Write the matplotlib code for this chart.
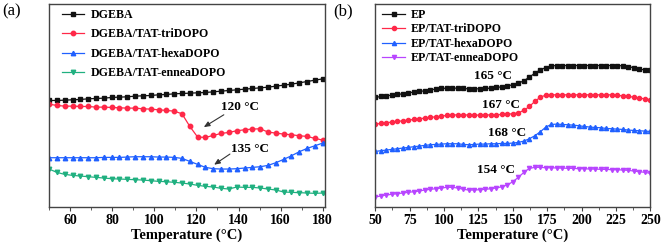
import numpy as np
import matplotlib
matplotlib.use("Agg")
import matplotlib.pyplot as plt
from matplotlib.ticker import MultipleLocator

plt.rcParams['font.family'] = ['Liberation Serif', 'DejaVu Serif']

# ---------------- Panel (a) data ----------------
temp_a = np.linspace(50, 180, 36)
dgeba = [32.0, 32.0, 32.1, 32.2, 32.3, 32.5, 32.6, 32.7, 32.9, 33.0, 33.1, 33.3,
         33.4, 33.5, 33.7, 33.8, 34.0, 34.1, 34.2, 34.3, 34.4, 34.6, 34.8, 35.0,
         35.2, 35.4, 35.6, 35.8, 36.0, 36.3, 36.6, 36.9, 37.3, 37.7, 38.1, 38.5]
dgeba_tri = [30.9, 30.5, 30.3, 30.3, 30.2, 30.2, 30.0, 30.0, 29.9, 29.8, 29.7, 29.7,
             29.5, 29.4, 29.2, 29.0, 28.8, 28.0, 24.2, 21.0, 20.9, 21.5, 22.1, 22.4,
             22.9, 23.2, 23.4, 23.5, 22.5, 22.2, 21.9, 21.7, 21.4, 21.2, 20.6, 20.1]
dgeba_hexa = [14.8, 14.8, 14.8, 14.8, 14.8, 14.8, 14.8, 14.9, 14.9, 14.9, 15.0, 15.1,
              15.1, 15.1, 15.0, 15.0, 14.9, 14.6, 13.7, 12.8, 11.9, 11.5, 11.4, 11.4,
              11.5, 11.7, 11.9, 12.1, 12.5, 13.3, 14.3, 15.4, 16.6, 17.6, 18.4, 19.2]
dgeba_ennea = [11.4, 10.4, 9.8, 9.5, 9.3, 9.1, 8.9, 8.7, 8.5, 8.4, 8.3, 8.2,
               8.1, 7.9, 7.7, 7.6, 7.4, 7.2, 6.9, 6.5, 6.2, 6.0, 5.6, 5.4,
               6.0, 5.9, 5.9, 5.7, 5.4, 5.1, 4.5, 4.4, 4.3, 4.2, 4.1, 4.2]
labels_a = ["DGEBA", "DGEBA/TAT-triDOPO", "DGEBA/TAT-hexaDOPO", "DGEBA/TAT-enneaDOPO"]

# ---------------- Panel (b) data ----------------
temp_b = np.arange(50, 251, 4)
ep = [32.9, 33.2, 33.4, 33.6, 33.8, 34.0, 34.3, 34.5, 34.7, 34.9, 35.2, 35.4,
      35.6, 35.7, 35.7, 35.7, 35.6, 35.5, 35.5, 35.5, 35.6, 35.7, 35.9, 36.1,
      36.4, 36.7, 37.2, 37.9, 39.0, 40.2, 41.2, 41.9, 42.4, 42.5,
      42.5, 42.5, 42.5, 42.5, 42.5, 42.5, 42.5, 42.5, 42.5, 42.5, 42.5,
      42.4, 42.2, 41.8, 41.4, 41.2, 41.2]
ep_tri = [24.9, 25.1, 25.3, 25.5, 25.7, 25.9, 26.1, 26.3, 26.5, 26.7, 26.9, 27.1,
          27.3, 27.5, 27.6, 27.7, 27.7, 27.6, 27.6, 27.6, 27.6, 27.7, 27.7, 27.8,
          27.9, 28.0, 28.3, 29.0, 30.2, 31.7, 33.0, 33.6, 33.7, 33.7,
          33.7, 33.7, 33.7, 33.7, 33.7, 33.7, 33.7, 33.7, 33.7, 33.7,
          33.5, 33.4, 33.2, 33.0, 32.7, 32.5, 32.2]
ep_hexa = [16.7, 16.9, 17.1, 17.3, 17.5, 17.7, 17.9, 18.1, 18.3, 18.5, 18.7, 18.8,
           18.9, 19.0, 19.0, 19.0, 18.8, 18.7, 18.8, 18.9, 18.9, 19.0, 19.0, 19.1,
           19.1, 19.2, 19.4, 19.8, 20.5, 21.4, 22.6, 24.0, 24.8, 24.9, 24.8, 24.7,
           24.6, 24.4, 24.2, 24.0, 23.9, 23.8, 23.6, 23.5, 23.4, 23.3, 23.1, 23.0,
           22.9, 22.8, 22.7]
ep_ennea = [3.0, 3.3, 3.6, 3.8, 4.0, 4.2, 4.4, 4.6, 4.8, 5.1, 5.3, 5.5,
            5.7, 5.9, 5.9, 5.7, 5.3, 5.1, 5.1, 5.2, 5.3, 5.5, 5.7, 6.1,
            6.6, 7.6, 8.9, 10.4, 11.6, 11.9, 11.9, 11.8, 11.8, 11.7, 11.7, 11.6,
            11.6, 11.5, 11.5, 11.4, 11.4, 11.3, 11.3, 11.2, 11.2, 11.1, 11.0, 10.8,
            10.6, 10.4, 10.1]
labels_b = ["EP", "EP/TAT-triDOPO", "EP/TAT-hexaDOPO", "EP/TAT-enneaDOPO"]

colors = ["#111111", "#ff2848", "#2060ff", "#20b080"]
colors_b = ["#111111", "#ff2848", "#2060ff", "#b845ff"]
markers = ["s", "o", "^", "v"]

fig = plt.figure(figsize=(6.63, 2.47), dpi=100)
ax1 = fig.add_axes([0.074, 0.162, 0.416, 0.822])
ax2 = fig.add_axes([0.566, 0.162, 0.415, 0.822])

for ys, lab, c, m in zip([dgeba, dgeba_tri, dgeba_hexa, dgeba_ennea], labels_a, colors, markers):
    ax1.plot(temp_a, ys, color=c, marker=m, markersize=3.2, linewidth=0.9, label=lab)
for ys, lab, c, m in zip([ep, ep_tri, ep_hexa, ep_ennea], labels_b, colors_b, markers):
    ax2.plot(temp_b, ys, color=c, marker=m, markersize=3.0, linewidth=0.9, label=lab)

ax1.set_xlim(50, 181)
ax1.set_ylim(0, 61)
ax2.set_xlim(50, 250)
ax2.set_ylim(0, 61)

ax1.xaxis.set_major_locator(MultipleLocator(20))
ax1.xaxis.set_minor_locator(MultipleLocator(10))
ax2.xaxis.set_major_locator(MultipleLocator(25))
ax2.xaxis.set_minor_locator(MultipleLocator(12.5))

for ax in (ax1, ax2):
    ax.set_yticks([])
    for s in ax.spines.values():
        s.set_color("#444444")
        s.set_linewidth(1.0)
    ax.tick_params(axis='x', which='major', direction='out', length=3, width=0.8,
                   labelsize=10, pad=2, color="#444444")
    ax.tick_params(axis='x', which='minor', direction='out', length=2, width=0.6, color="#444444")
    for t in ax.get_xticklabels():
        t.set_fontweight('bold')
    ax.set_xlabel("Temperature (°C)", fontsize=10.5, fontweight='bold', labelpad=1)

ax1.legend(loc='upper left', frameon=False, prop={'weight': 'bold', 'size': 8.6},
           handlelength=1.9, labelspacing=0.62, borderaxespad=0.2, handletextpad=0.5,
           bbox_to_anchor=(0.02, 1.01))
ax2.legend(loc='upper left', frameon=False, prop={'weight': 'bold', 'size': 8.6},
           handlelength=1.9, labelspacing=0.2, borderaxespad=0.2, handletextpad=0.5,
           bbox_to_anchor=(0.0, 1.01))

# annotations panel a
ax1.text(140.6, 30.0, "120 °C", fontsize=9.5, fontweight='bold', ha='center', va='center')
ax1.annotate("", xy=(123.5, 24.0), xytext=(133.0, 27.7),
             arrowprops=dict(arrowstyle='-|>,head_length=0.35,head_width=0.15',
                             color='#333333', lw=0.8, shrinkA=0, shrinkB=0))
ax1.text(145.4, 17.5, "135 °C", fontsize=9.5, fontweight='bold', ha='center', va='center')
ax1.annotate("", xy=(128.4, 12.7), xytext=(135.9, 15.9),
             arrowprops=dict(arrowstyle='-|>,head_length=0.35,head_width=0.15',
                             color='#333333', lw=0.8, shrinkA=0, shrinkB=0))

# annotations panel b
for txt, xx, yy in [("165 °C", 135.5, 39.4), ("167 °C", 141.6, 30.6),
                    ("168 °C", 146.0, 22.2), ("154 °C", 138.0, 11.2)]:
    ax2.text(xx, yy, txt, fontsize=9.5, fontweight='bold', ha='center', va='center')

fig.text(0.003, 0.955, "(a)", fontsize=12, ha='left', va='center')
fig.text(0.503, 0.955, "(b)", fontsize=12, ha='left', va='center')

fig.savefig("out.png", dpi=100)
